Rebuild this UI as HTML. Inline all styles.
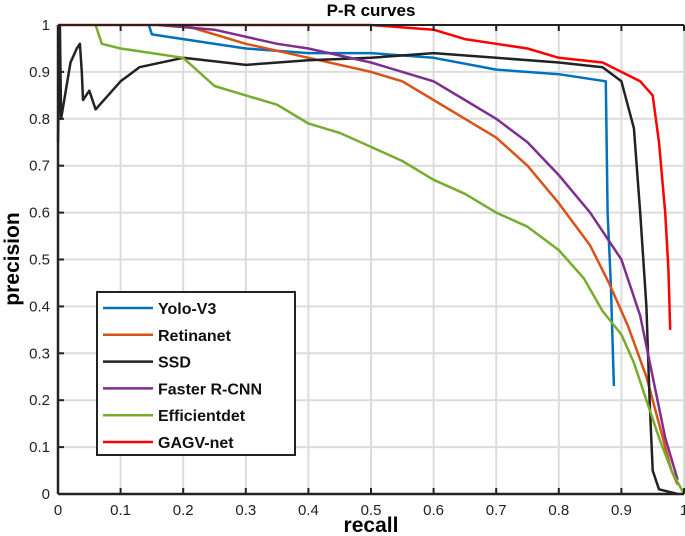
<!DOCTYPE html>
<html><head><meta charset="utf-8"><style>
body{margin:0;background:#fff;}
svg{display:block;font-family:"Liberation Sans",Arial,sans-serif;}
</style></head><body>
<svg id="chart" width="685" height="536">
<g id="grid"></g><g id="series"></g><g id="axes"></g>
<text x="371" y="16" text-anchor="middle" font-size="17" font-weight="bold">P-R curves</text>
<text x="371" y="532" text-anchor="middle" font-size="21" font-weight="bold">recall</text>
<text transform="translate(19,259) rotate(-90)" text-anchor="middle" font-size="21" font-weight="bold">precision</text>
<g id="legend"></g>
</svg>
<script>
const xTicks=[0,0.1,0.2,0.3,0.4,0.5,0.6,0.7,0.8,0.9,1];
const yTicks=[0,0.1,0.2,0.3,0.4,0.5,0.6,0.7,0.8,0.9,1];
const names=["Yolo-V3","Retinanet","SSD","Faster R-CNN","Efficientdet","GAGV-net"];
const colors=["#0072BD","#D95319","#222222","#7E2F8E","#77AC30","#FF0000"];
const yoloR=[0.145,0.15,0.2,0.3,0.4,0.5,0.6,0.7,0.8,0.875,0.878,0.883,0.888];
const yoloP=[1,0.98,0.97,0.95,0.94,0.94,0.93,0.905,0.895,0.88,0.6,0.45,0.23];
const retR=[0.2,0.3,0.4,0.5,0.55,0.6,0.65,0.7,0.75,0.8,0.85,0.88,0.91,0.94,0.96,0.98,0.99];
const retP=[1,0.96,0.93,0.9,0.88,0.84,0.8,0.76,0.7,0.62,0.53,0.45,0.36,0.25,0.15,0.05,0.02];
const ssdR=[0,0.003,0.005,0.02,0.03,0.035,0.038,0.04,0.05,0.06,0.1,0.13,0.2,0.3,0.4,0.5,0.6,0.7,0.8,0.87,0.9,0.92,0.93,0.94,0.945,0.95,0.96,0.99];
const ssdP=[0.75,1,0.8,0.92,0.95,0.96,0.9,0.84,0.86,0.82,0.88,0.91,0.93,0.915,0.925,0.93,0.94,0.93,0.92,0.91,0.88,0.78,0.6,0.4,0.2,0.05,0.01,0];
const frR=[0.16,0.25,0.35,0.4,0.5,0.55,0.6,0.65,0.7,0.75,0.8,0.85,0.9,0.93,0.95,0.97,0.99];
const frP=[1,0.99,0.96,0.95,0.92,0.9,0.88,0.84,0.8,0.75,0.68,0.6,0.5,0.38,0.25,0.12,0.03];
const efR=[0.06,0.07,0.1,0.15,0.2,0.25,0.3,0.35,0.4,0.45,0.5,0.55,0.6,0.65,0.7,0.75,0.8,0.84,0.87,0.9,0.92,0.94,0.96,0.98,1];
const efP=[1,0.96,0.95,0.94,0.93,0.87,0.85,0.83,0.79,0.77,0.74,0.71,0.67,0.64,0.6,0.57,0.52,0.46,0.39,0.34,0.28,0.2,0.12,0.05,0];
const gaR=[0,0.5,0.6,0.65,0.7,0.75,0.8,0.87,0.9,0.93,0.95,0.96,0.97,0.975,0.978];
const gaP=[1,1,0.99,0.97,0.96,0.95,0.93,0.92,0.9,0.88,0.85,0.75,0.6,0.48,0.35];
const seriesR=[yoloR,retR,ssdR,frR,efR,gaR];
const seriesP=[yoloP,retP,ssdP,frP,efP,gaP];
const X0=58,X1=684,Y0=494,Y1=25;
const sx=v=>X0+v*(X1-X0), sy=v=>Y0-v*(Y0-Y1);
const NS="http://www.w3.org/2000/svg";
function mk(t,a,p){const e=document.createElementNS(NS,t);for(const k in a)e.setAttribute(k,a[k]);p.appendChild(e);return e;}
const grid=document.getElementById('grid'),axes=document.getElementById('axes'),ser=document.getElementById('series'),leg=document.getElementById('legend');
xTicks.forEach(t=>{
 const g=mk('line',{x1:sx(t),x2:sx(t),y1:Y1,y2:Y0,stroke:'#dcdcdc','stroke-width':2},grid);
 
 
 mk('line',{x1:sx(t),x2:sx(t),y1:Y0,y2:Y0-6,stroke:'#222','stroke-width':2},axes);
 mk('line',{x1:sx(t),x2:sx(t),y1:Y1,y2:Y1+6,stroke:'#222','stroke-width':2},axes);
 const l=mk('text',{x:sx(t),y:Y0+21,'text-anchor':'middle','font-size':15,fill:'#222'},axes);
 l.textContent=String(t);
 
 
});
yTicks.forEach(t=>{
 const g=mk('line',{x1:X0,x2:X1,y1:sy(t),y2:sy(t),stroke:'#dcdcdc','stroke-width':2},grid);
 
 
 mk('line',{x1:X0,x2:X0+6,y1:sy(t),y2:sy(t),stroke:'#222','stroke-width':2},axes);
 const l=mk('text',{x:X0-8,y:sy(t)+5,'text-anchor':'end','font-size':15,fill:'#222'},axes);
 l.textContent=String(t);
 
 
});
mk('line',{x1:X0,x2:X0,y1:Y1,y2:Y0,stroke:'#222','stroke-width':2.5},axes);
mk('line',{x1:X0,x2:X1,y1:Y0,y2:Y0,stroke:'#222','stroke-width':2.5},axes);
mk('line',{x1:X0,x2:X1,y1:Y1,y2:Y1,stroke:'#222','stroke-width':2},axes);
seriesR.forEach((r,i)=>{
 const d=r.map((v,j)=>(j?'L':'M')+sx(v).toFixed(1)+','+sy(seriesP[i][j]).toFixed(1)).join('');
 const p=mk('path',{d:d,fill:'none',stroke:colors[i],'stroke-width':2.5,'stroke-linejoin':'round'},ser);
 
 
});
mk('rect',{x:97,y:292,width:198,height:163,fill:'#fff',stroke:'#222','stroke-width':2},leg);
names.forEach((n,i)=>{
 const y=308+i*26.8;
 const ln=mk('line',{x1:103,x2:153,y1:y,y2:y,stroke:colors[i],'stroke-width':2.5},leg);
 
 
 const t=mk('text',{x:158,y:y+6,'font-size':16,'font-weight':'bold',fill:'#111'},leg);
 t.textContent=n;
 
 
});
</script>
</body></html>
